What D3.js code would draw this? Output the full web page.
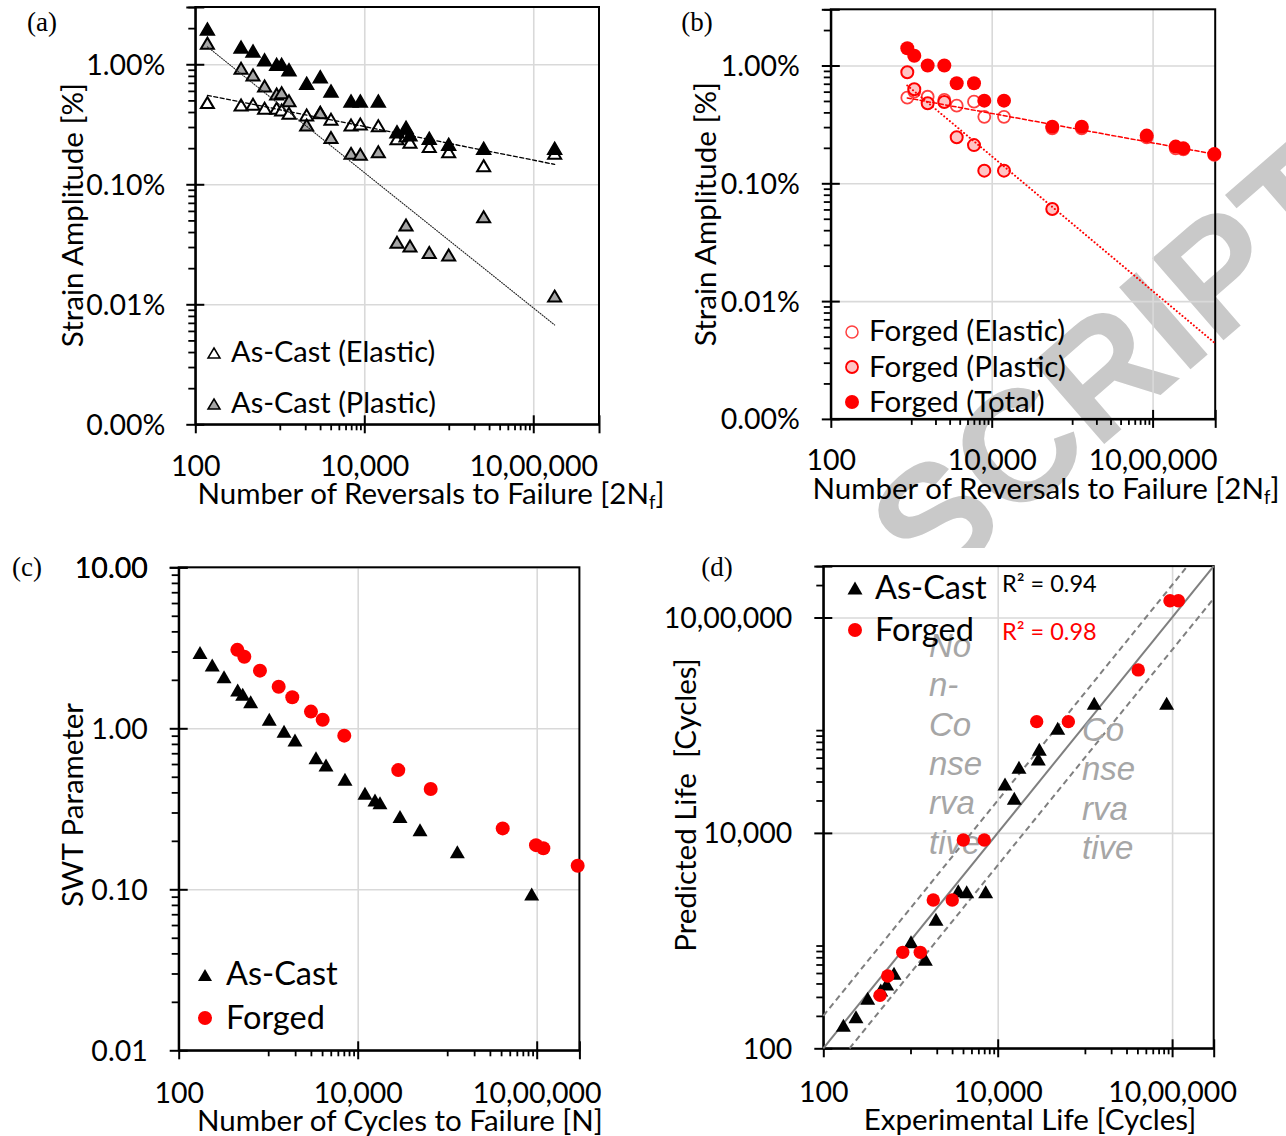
<!DOCTYPE html>
<html>
<head>
<meta charset="utf-8">
<script src="https://cdn.jsdelivr.net/npm/d3@7"></script>
<style>
  body { margin: 0; background: #fff; }
  svg { display: block; }
</style>
</head>
<body>
<div id="chart"></div>
<script>
// ---- data ----

// (a) as-cast, reversals to failure 2Nf and strain amplitude [%]
const castRev = [139, 348, 482, 661, 918, 1052, 1285, 2080, 3013, 4036, 6966, 8974, 14660, 24380, 31190, 34750, 58750, 99770, 258800, 1791000];
const castTotalStrain = [1.97, 1.39, 1.29, 1.09, 1.00, 1.00, 0.90, 0.695, 0.788, 0.60, 0.495, 0.495, 0.495, 0.274, 0.299, 0.258, 0.242, 0.216, 0.20, 0.20];
const castElasticStrain = [0.479, 0.458, 0.464, 0.430, 0.430, 0.416, 0.391, 0.378, 0.398, 0.348, 0.312, 0.318, 0.308, 0.240, 0.253, 0.224, 0.206, 0.187, 0.143, 0.181];
const castPlasticStrain = [1.50, 0.926, 0.814, 0.659, 0.566, 0.580, 0.497, 0.312, 0.395, 0.245, 0.181, 0.178, 0.187, 0.0329, 0.0458, 0.0306, 0.027, 0.0258, 0.0537, 0.0117];
const castElasticFit = [1.10, -0.140];   // strain = A * (2Nf)^b
const castPlasticFit = [22.6, -0.564];

// (b) forged
const forgedRev = [893, 1091, 1600, 2576, 3673, 6026, 8091, 14220, 56620, 131500, 845000, 1936000, 2410000, 5850000];
const forgedTotalStrain = [1.40, 1.21, 1.00, 1.00, 0.706, 0.706, 0.503, 0.503, 0.302, 0.302, 0.254, 0.205, 0.198, 0.177];
const forgedElasticStrain = [0.533, 0.600, 0.543, 0.510, 0.456, 0.493, 0.367, 0.367, 0.293, 0.293, 0.246, 0.198, 0.194, 0.174];
const forgedPlasticStrain = [0.876, 0.628, 0.478, 0.49, 0.246, 0.211, 0.128, 0.128, 0.0605];
const forgedElasticFit = [1.24, -0.125];
const forgedPlasticFit = [33.0, -0.572];

// (c) SWT parameter vs cycles to failure
const castCycles = [173, 237, 321, 456, 519, 637, 1028, 1503, 1992, 3420, 4425, 7210, 12060, 15600, 17740, 29700, 49700, 129800, 879000];
const castSWT = [2.96, 2.47, 2.09, 1.73, 1.63, 1.46, 1.14, 0.96, 0.846, 0.657, 0.591, 0.482, 0.395, 0.359, 0.345, 0.283, 0.234, 0.171, 0.0935];
const forgedCycles = [452, 541, 809, 1309, 1858, 3005, 4060, 7080, 28400, 65400, 417000, 982000, 1186000, 2870000];
const forgedSWT = [3.07, 2.78, 2.28, 1.81, 1.56, 1.27, 1.13, 0.90, 0.55, 0.42, 0.239, 0.188, 0.18, 0.140];

// (d) predicted vs experimental life [cycles]
const castExp = [170, 237, 323, 456, 533, 647, 1014, 1479, 1960, 3532, 4411, 7280, 12130, 15500, 17540, 29230, 30000, 48800, 128000, 866000];
const castPred = [164, 196, 291, 348, 395, 497, 977, 670, 1578, 2904, 2845, 2845, 28440, 20940, 40640, 48530, 59700, 93500, 159600, 159600];
const forgedExp = [447, 548, 815, 1294, 1825, 3013, 4035, 7017, 28000, 64600, 409000, 946000, 1180000];
const forgedPred = [310, 469, 778, 778, 2382, 2382, 8590, 8590, 107900, 107900, 326000, 1430000, 1430000];
const bandFactor = 2;
const r2Labels = ['R\u00b2 = 0.94', 'R\u00b2 = 0.98'];
const nonConsWords = ['No', 'n-', 'Co', 'nse', 'rva', 'tive'];
const consWords = ['Co', 'nse', 'rva', 'tive'];

// tick values
const lifeMajor = [100, 1e4, 1e6];
const strainMajor = [0.001, 0.01, 0.1, 1];
const swtMajor = [0.01, 0.1, 1, 10];

// ---- drawing ----
const width = 1286;
const height = 1136;
const FONT = 'Lato, "Open Sans", sans-serif';
const TICK = 28.5;
const TITLE = 29.5;

const svg = d3.select('#chart').append('svg')
  .attr('width', width)
  .attr('height', height);

const fmtIN = d3.formatLocale({ decimal: '.', thousands: ',', grouping: [3, 2, 2, 2], currency: ['', ''] }).format(',d');

// watermark behind the top-right panel
svg.append('text')
  .attr('transform', 'translate(1112,362) rotate(-41)')
  .attr('text-anchor', 'middle')
  .attr('dy', '0.36em')
  .style('font-family', '"Liberation Sans", Arial, sans-serif')
  .style('font-weight', 'bold')
  .style('font-size', '158px')
  .attr('fill', '#c9c9c9')
  .text('SCRIPT');

// panel (d) sits on an opaque white tile
svg.append('rect').attr('x', 640).attr('y', 548).attr('width', 646).attr('height', 588).attr('fill', '#fff');

const tri = (w, h) => `M0,${-h / 2}L${w / 2},${h / 2}L${-w / 2},${h / 2}Z`;

function minorLog(major, dmax, mult) {
  // minor ticks k * m * mult for every major m
  const out = [];
  major.forEach(m => d3.range(1, 10).forEach(k => {
    const v = m * mult * k;
    if (v <= dmax * 1.0001 && !major.includes(v)) out.push(v);
  }));
  return out;
}

function panel(o) {
  const x = d3.scaleLog().domain(o.xDomain).range([o.left, o.right]);
  const y = d3.scaleLog().domain(o.yDomain).range([o.bottom, o.top]);
  const g = svg.append('g');
  const h = o.bottom - o.top;
  const w = o.right - o.left;

  // gridlines
  g.append('g')
    .attr('transform', `translate(0,${o.bottom})`)
    .call(d3.axisBottom(x).tickValues(o.xMajor.slice(1)).tickSize(-h).tickFormat(''))
    .call(s => s.select('.domain').remove())
    .selectAll('line').attr('stroke', '#d9d9d9').attr('stroke-width', 1.6);
  g.append('g')
    .attr('transform', `translate(${o.left},0)`)
    .call(d3.axisLeft(y).tickValues(o.yMajor.slice(1)).tickSize(-w).tickFormat(''))
    .call(s => s.select('.domain').remove())
    .selectAll('line').attr('stroke', '#d9d9d9').attr('stroke-width', 1.6);

  // frame
  g.append('rect')
    .attr('x', o.left).attr('y', o.top).attr('width', w).attr('height', h)
    .attr('fill', 'none').attr('stroke', '#000').attr('stroke-width', 2);

  // minor ticks
  const xMinor = minorLog(o.xMajor, o.xDomain[1], 10);
  const yMinor = minorLog(o.yMajor, o.yDomain[1], 1).filter(v => v > o.yDomain[0]);
  g.append('g')
    .attr('transform', `translate(0,${o.bottom})`)
    .call(d3.axisBottom(x).tickValues(xMinor).tickSize(6).tickFormat(''))
    .call(s => s.select('.domain').remove())
    .selectAll('line').attr('stroke', '#000').attr('stroke-width', 1.8);
  g.append('g')
    .attr('transform', `translate(${o.left},0)`)
    .call(d3.axisLeft(y).tickValues(yMinor).tickSize(7).tickFormat(''))
    .call(s => s.select('.domain').remove())
    .selectAll('line').attr('stroke', '#000').attr('stroke-width', 1.8);

  // major ticks + labels
  const xa = g.append('g')
    .attr('transform', `translate(0,${o.bottom})`)
    .call(d3.axisBottom(x).tickValues(o.xMajor.concat([o.xDomain[1]])).tickSize(9).tickSizeOuter(0)
      .tickFormat(d => o.xMajor.includes(d) ? fmtIN(d) : ''));
  xa.select('.domain').attr('stroke-width', 2);
  xa.selectAll('.tick line').attr('y1', (d, i) => i === 0 ? 0 : -9).attr('stroke-width', 2);
  xa.selectAll('.tick text')
    .attr('y', o.xLabelOffset).attr('dy', '0.35em')
    .style('font-family', FONT).style('font-size', TICK + 'px').attr('fill', '#000');

  const ya = g.append('g')
    .attr('transform', `translate(${o.left},0)`)
    .call(d3.axisLeft(y).tickValues(o.yMajor.concat([o.yDomain[1]])).tickSize(9).tickSizeOuter(0)
      .tickFormat(d => o.yMajor.includes(d) ? o.yFormat(d) : ''));
  ya.select('.domain').attr('stroke-width', 2);
  ya.selectAll('.tick line').attr('x1', 9).attr('stroke-width', 2);
  ya.selectAll('.tick text')
    .attr('x', -o.yLabelOffset).attr('dy', '0.35em')
    .style('font-family', FONT).style('font-size', TICK + 'px').attr('fill', '#000');

  // axis titles
  const xt = g.append('text')
    .attr('x', o.xTitle[0]).attr('y', o.xTitle[1]).attr('dy', '0.35em')
    .attr('text-anchor', 'middle')
    .style('font-family', FONT).style('font-size', TITLE + 'px');
  xt.append('tspan').text(o.xTitleText);
  if (o.xTitleSub) {
    xt.append('tspan').attr('dy', 5).style('font-size', (TITLE * 0.62) + 'px').text(o.xTitleSub);
    xt.append('tspan').attr('dy', -5).text(']');
  }
  g.append('text')
    .attr('transform', `translate(${o.yTitle[0]},${o.yTitle[1]}) rotate(-90)`)
    .attr('dy', '0.35em')
    .attr('text-anchor', 'middle')
    .style('font-family', FONT).style('font-size', TITLE + 'px')
    .style('white-space', 'pre')
    .text(o.yTitleText);

  // panel letter
  g.append('text')
    .attr('x', o.letter[0]).attr('y', o.letter[1]).attr('dy', '0.35em')
    .attr('text-anchor', 'middle')
    .style('font-family', '"Liberation Serif", "Times New Roman", serif')
    .style('font-size', '27px')
    .text(o.letterText);

  return { g, x, y };
}

const pctFmt = d => d3.format('.2f')(d) + '%';

function scatterTri(p, xs, ys, w, h, fill, stroke, sw) {
  p.g.append('g').selectAll('path')
    .data(xs.map((v, i) => [v, ys[i]]))
    .join('path')
    .attr('d', tri(w, h))
    .attr('transform', d => `translate(${p.x(d[0])},${p.y(d[1])})`)
    .attr('fill', fill).attr('stroke', stroke).attr('stroke-width', sw)
    .attr('stroke-linejoin', 'miter');
}
function scatterDot(p, xs, ys, r, fill, stroke, sw) {
  p.g.append('g').selectAll('circle')
    .data(xs.map((v, i) => [v, ys[i]]))
    .join('circle')
    .attr('cx', d => p.x(d[0])).attr('cy', d => p.y(d[1])).attr('r', r)
    .attr('fill', fill).attr('stroke', stroke).attr('stroke-width', sw);
}
function powerLine(p, xs, fit, color, sw, dash) {
  const ext = d3.extent(xs);
  const pts = ext.map(n => [n, fit[0] * Math.pow(n, fit[1])]);
  p.g.append('path')
    .attr('d', d3.line().x(d => p.x(d[0])).y(d => p.y(d[1]))(pts))
    .attr('fill', 'none').attr('stroke', color).attr('stroke-width', sw)
    .attr('stroke-dasharray', dash).attr('stroke-linecap', 'round');
}
function legendText(p, x, y, size, txt, color) {
  p.g.append('text').attr('x', x).attr('y', y).attr('dy', '0.35em')
    .style('font-family', FONT).style('font-size', size + 'px')
    .attr('fill', color || '#000').text(txt);
}

// ---------- (a) ----------
const A = panel({
  left: 195.3, right: 599, top: 7, bottom: 424.3,
  xDomain: [100, 6e6], yDomain: [0.001, 3],
  xMajor: lifeMajor, yMajor: strainMajor, yFormat: pctFmt,
  xLabelOffset: 42, yLabelOffset: 30,
  xTitle: [431, 494], xTitleText: 'Number of Reversals to Failure [2N', xTitleSub: 'f',
  yTitle: [73, 215], yTitleText: 'Strain Amplitude [%]',
  letter: [42, 22], letterText: '(a)'
});

scatterTri(A, castRev, castElasticStrain, 13, 11, '#fff', '#000', 2);
scatterTri(A, castRev, castPlasticStrain, 13, 11, '#a6a6a6', '#000', 2);
scatterTri(A, castRev, castTotalStrain, 14, 12, '#000', '#000', 1.5);
powerLine(A, castRev, castElasticFit, '#000', 1.3, '4,2.5');
powerLine(A, castRev, castPlasticFit, '#222', 1.1, '1,1.6');

A.g.append('path').attr('d', tri(12, 10)).attr('transform', 'translate(214,353)')
  .attr('fill', '#fff').attr('stroke', '#000').attr('stroke-width', 1.5);
A.g.append('path').attr('d', tri(12, 10)).attr('transform', 'translate(214,404)')
  .attr('fill', '#a6a6a6').attr('stroke', '#000').attr('stroke-width', 1.5);
legendText(A, 231, 352, 29, 'As-Cast (Elastic)');
legendText(A, 231, 403, 29, 'As-Cast (Plastic)');

// ---------- (b) ----------
const B = panel({
  left: 830.8, right: 1215.2, top: 9.3, bottom: 418.9,
  xDomain: [100, 6e6], yDomain: [0.001, 3],
  xMajor: lifeMajor, yMajor: strainMajor, yFormat: pctFmt,
  xLabelOffset: 41, yLabelOffset: 31,
  xTitle: [1046, 489], xTitleText: 'Number of Reversals to Failure [2N', xTitleSub: 'f',
  yTitle: [706, 214], yTitleText: 'Strain Amplitude [%]',
  letter: [697, 22], letterText: '(b)'
});

scatterDot(B, forgedRev, forgedElasticStrain, 6, 'none', '#ff4040', 1.8);
scatterDot(B, forgedRev.slice(0, forgedPlasticStrain.length), forgedPlasticStrain, 6, '#ffc4c4', '#ff0000', 2);
scatterDot(B, forgedRev, forgedTotalStrain, 7, '#ff0000', 'none', 0);
powerLine(B, forgedRev, forgedElasticFit, '#ff0000', 1.5, '4,2.5');
powerLine(B, forgedRev, forgedPlasticFit, '#ff0000', 2, '0.1,3.6');

B.g.append('circle').attr('cx', 852).attr('cy', 332).attr('r', 6).attr('fill', 'none').attr('stroke', '#ff4040').attr('stroke-width', 1.5);
B.g.append('circle').attr('cx', 852).attr('cy', 367).attr('r', 6).attr('fill', '#ffc4c4').attr('stroke', '#ff0000').attr('stroke-width', 1.8);
B.g.append('circle').attr('cx', 852).attr('cy', 402).attr('r', 7).attr('fill', '#ff0000');
legendText(B, 869, 331, 29.5, 'Forged (Elastic)');
legendText(B, 869, 367, 29.5, 'Forged (Plastic)');
legendText(B, 869, 402, 29.5, 'Forged (Total)');

// ---------- (c) ----------
const C = panel({
  left: 178.7, right: 579.4, top: 567.3, bottom: 1050.3,
  xDomain: [100, 3e6], yDomain: [0.01, 10],
  xMajor: lifeMajor, yMajor: swtMajor, yFormat: d3.format('.2f'),
  xLabelOffset: 43, yLabelOffset: 31,
  xTitle: [400, 1121], xTitleText: 'Number of Cycles to Failure [N]',
  yTitle: [73, 805], yTitleText: 'SWT Parameter',
  letter: [27, 567], letterText: '(c)'
});

scatterTri(C, castCycles, castSWT, 15, 13, '#000', 'none', 0);
scatterDot(C, forgedCycles, forgedSWT, 7, '#ff0000', 'none', 0);

C.g.append('path').attr('d', tri(14, 12)).attr('transform', 'translate(205,975)').attr('fill', '#000');
C.g.append('circle').attr('cx', 205).attr('cy', 1018).attr('r', 7).attr('fill', '#ff0000');
legendText(C, 226, 974, 32.5, 'As-Cast');
legendText(C, 226, 1018, 32.5, 'Forged');

// ---------- (d) ----------
const D = panel({
  left: 823.3, right: 1213.7, top: 566.1, bottom: 1048.3,
  xDomain: [100, 3e6], yDomain: [100, 3e6],
  xMajor: lifeMajor, yMajor: lifeMajor, yFormat: fmtIN,
  xLabelOffset: 44, yLabelOffset: 31,
  xTitle: [1030, 1120], xTitleText: 'Experimental Life [Cycles]',
  yTitle: [686, 805], yTitleText: 'Predicted Life  [Cycles]',
  letter: [717, 567], letterText: '(d)'
});

// 1:1 line and factor-of-two scatter bands
const [lo, hi] = D.x.domain();
const diag = (f, dash) => {
  const pts = [[Math.max(lo, lo / f), Math.max(lo, lo / f) * f], [Math.min(hi, hi / f), Math.min(hi, hi / f) * f]];
  D.g.append('path')
    .attr('d', d3.line().x(d => D.x(d[0])).y(d => D.y(d[1]))(pts))
    .attr('fill', 'none').attr('stroke', '#7f7f7f').attr('stroke-width', 2)
    .attr('stroke-dasharray', dash);
};
diag(1, null);
diag(bandFactor, '6,4');
diag(1 / bandFactor, '6,4');

// non-conservative / conservative annotations
const annot = (words, x, y0, step) => words.forEach((w, i) => {
  D.g.append('text').attr('x', x).attr('y', y0 + i * step)
    .style('font-family', '"Liberation Sans", Arial, sans-serif')
    .style('font-style', 'italic').style('font-size', '33px')
    .attr('fill', '#a6a6a6').text(w);
});
annot(nonConsWords, 929, 657, 39.3);
annot(consWords, 1082, 741, 39.3);

scatterTri(D, castExp, castPred, 15, 13, '#000', 'none', 0);
scatterDot(D, forgedExp, forgedPred, 6.7, '#ff0000', 'none', 0);

D.g.append('path').attr('d', tri(15, 13)).attr('transform', 'translate(855,588)').attr('fill', '#000');
D.g.append('circle').attr('cx', 855).attr('cy', 630).attr('r', 7).attr('fill', '#ff0000');
legendText(D, 875, 588, 32.5, 'As-Cast');
legendText(D, 875, 630, 32.5, 'Forged');
legendText(D, 1002, 584, 23.5, r2Labels[0], '#000');
legendText(D, 1002, 632, 23.5, r2Labels[1], '#ff0000');
</script>
</body>
</html>
